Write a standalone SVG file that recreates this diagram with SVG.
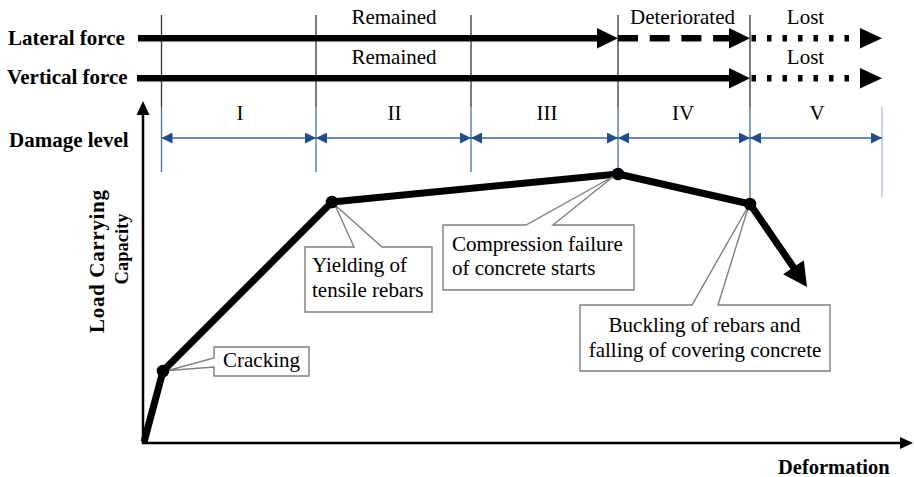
<svg xmlns="http://www.w3.org/2000/svg" width="914" height="477" viewBox="0 0 914 477">
<style>
text{font-family:"Liberation Serif","Times New Roman",serif}
.lbl{font-size:21px;fill:#000}
.bold{font-weight:bold;fill:#000}
.tick{stroke:#333;stroke-width:1.3}
.btick{stroke:#4a6fa5;stroke-width:1.3}
.dim{stroke:#3a64a0;stroke-width:1.3;fill:none;marker-start:url(#dimA);marker-end:url(#dimA)}
.force{stroke:#000;stroke-width:6.5;fill:none}
.box{fill:#fff;stroke:#7f7f7f;stroke-width:1.4}
.curve{stroke:#000;stroke-width:7;fill:none;stroke-linejoin:round}
</style>
<defs>
<marker id="dimA" viewBox="0 0 11 11" refX="11" refY="5.5" markerWidth="11" markerHeight="11" markerUnits="userSpaceOnUse" orient="auto-start-reverse">
<path d="M0,0 L11,5.5 L0,11 Z" fill="#1f4e8a"/>
</marker>
</defs>
<rect width="914" height="477" fill="#fff"/>

<g id="labels" font-family="Liberation Serif, Times New Roman, serif">
<text class="bold" x="8" y="44.5" font-size="21">Lateral force</text>
<text class="bold" x="7" y="83.5" font-size="21">Vertical force</text>
<text class="bold" x="9" y="147" font-size="21">Damage level</text>
<text class="bold" x="778" y="474" font-size="20.5">Deformation</text>
<text class="bold" font-size="21" transform="translate(104,261.5) rotate(-90)" text-anchor="middle" textLength="143" lengthAdjust="spacing">Load Carrying</text>
<text class="bold" font-size="18.5" transform="translate(128,249) rotate(-90)" text-anchor="middle">Capacity</text>
<text class="lbl" x="394" y="24" text-anchor="middle">Remained</text>
<text class="lbl" x="394" y="63.5" text-anchor="middle">Remained</text>
<text class="lbl" x="682.5" y="24" text-anchor="middle">Deteriorated</text>
<text class="lbl" x="805.5" y="24" text-anchor="middle">Lost</text>
<text class="lbl" x="805.5" y="63.5" text-anchor="middle">Lost</text>
<text class="lbl" x="240" y="120" text-anchor="middle">I</text>
<text class="lbl" x="394.5" y="120" text-anchor="middle">II</text>
<text class="lbl" x="547" y="120" text-anchor="middle">III</text>
<text class="lbl" x="683" y="120" text-anchor="middle">IV</text>
<text class="lbl" x="817" y="120" text-anchor="middle">V</text>
</g>

<g id="connectors">
<line class="tick" x1="161.5" y1="15" x2="161.5" y2="107"/>
<line class="tick" x1="316" y1="15" x2="316" y2="107"/>
<line class="tick" x1="471" y1="15" x2="471" y2="107"/>
<line class="tick" x1="618" y1="15" x2="618" y2="107"/>
<line class="tick" x1="750" y1="15" x2="750" y2="107"/>
<line class="btick" x1="161.5" y1="107" x2="161.5" y2="172"/>
<line class="btick" x1="316" y1="107" x2="316" y2="172"/>
<line class="btick" x1="471" y1="107" x2="471" y2="172"/>
<line class="btick" x1="618" y1="107" x2="618" y2="172"/>
<line class="btick" x1="750" y1="107" x2="750" y2="202"/>
<line x1="882" y1="107" x2="882" y2="197" stroke="#a9bcd9" stroke-width="1.3"/>
<line class="dim" x1="161.5" y1="138" x2="316" y2="138"/>
<line class="dim" x1="316" y1="138" x2="471" y2="138"/>
<line class="dim" x1="471" y1="138" x2="618" y2="138"/>
<line class="dim" x1="618" y1="138" x2="750" y2="138"/>
<line class="dim" x1="750" y1="138" x2="882" y2="138"/>
<line class="force" x1="138" y1="38.3" x2="598" y2="38.3"/>
<polygon points="597,28 618,38.3 597,48.6" fill="#000"/>
<line class="force" x1="618" y1="38.3" x2="730" y2="38.3" stroke-dasharray="20 11.7"/>
<polygon points="729,28 750,38.3 729,48.6" fill="#000"/>
<line class="force" x1="751.5" y1="38.3" x2="860" y2="38.3" stroke-dasharray="4.5 11"/>
<polygon points="860,28 882,38.3 860,48.6" fill="#000"/>
<line class="force" x1="137" y1="78.3" x2="730" y2="78.3"/>
<polygon points="729,68 750,78.3 729,88.6" fill="#000"/>
<line class="force" x1="751.5" y1="78.3" x2="860" y2="78.3" stroke-dasharray="4.5 11"/>
<polygon points="860,68 882,78.3 860,88.6" fill="#000"/>
<line x1="143" y1="444" x2="143" y2="113" stroke="#000" stroke-width="2.5"/>
<polygon points="143,101 136.5,115 149.5,115" fill="#000"/>
<line x1="142" y1="443" x2="901" y2="443" stroke="#000" stroke-width="2.5"/>
<polygon points="913,443 900,437 900,449" fill="#000"/>
<polyline class="curve" points="144,442 163,371 332,202 618,174 750,204 794,268"/>
<polygon points="807,287 803.8,260.2 783.2,274.2" fill="#000"/>
</g>

<g id="cracking">
<path class="box" d="M214,347 H309 V376 H214 V367 L168,370.5 L214,358 Z"/>
<text class="lbl" x="261.5" y="367" text-anchor="middle">Cracking</text>
</g>
<g id="yielding">
<path class="box" d="M305,247 H354 L335,205 L382,247 H432 V312 H305 Z"/>
<text class="lbl" x="312" y="272">Yielding of</text>
<text class="lbl" x="312" y="297">tensile rebars</text>
</g>
<g id="compression">
<path class="box" d="M443,225 H526 L614,176 L553,225 H634 V290 H443 Z"/>
<text class="lbl" x="452" y="251">Compression failure</text>
<text class="lbl" x="452" y="275">of concrete starts</text>
</g>
<g id="buckling">
<path class="box" d="M580,305 H692 L749,205 L718,305 H830 V371 H580 Z"/>
<text class="lbl" x="704.5" y="332" text-anchor="middle">Buckling of rebars and</text>
<text class="lbl" x="705" y="357" text-anchor="middle">falling of covering concrete</text>
</g>

<g id="points">
<circle cx="163" cy="371" r="6.3" fill="#000"/>
<circle cx="332" cy="202" r="6.3" fill="#000"/>
<circle cx="618" cy="174" r="6.3" fill="#000"/>
<circle cx="750" cy="204" r="6.3" fill="#000"/>
</g>
</svg>
